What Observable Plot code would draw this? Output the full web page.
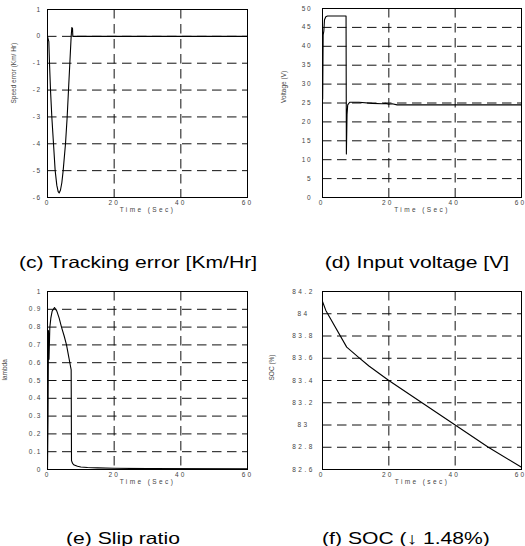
<!DOCTYPE html>
<html><head><meta charset="utf-8">
<script src="https://cdn.jsdelivr.net/npm/d3@7"></script>
<script src="https://cdn.jsdelivr.net/npm/@observablehq/plot@0.6"></script>
<style>
body{margin:0;background:#fff;}
#wrap{position:relative;width:525px;height:546px;overflow:hidden;font-family:"Liberation Sans",Arial,sans-serif;background:#fff;}
.panel{position:absolute;}
.cap{position:absolute;font-size:16.5px;white-space:nowrap;transform:translate(-50%,-50%) scaleX(1.28);color:#000;line-height:1;}
</style></head><body><div id="wrap"></div>
<script>
// ---- shared axis values ----
const timeTicks = [0, 20, 40, 60];
const timeGrid = [20, 40];

// ---- (c) Tracking error ----
const errTime  = [0, 0.4, 0.6, 0.9, 1.3, 1.8, 2.3, 2.8, 3.2, 3.5, 3.9, 4.3, 4.7, 5.4, 5.9, 6.3, 6.7, 7.1, 7.3, 7.5, 7.6, 60];
const errValue = [0, -0.2, -1.0, -2.0, -3.0, -4.0, -5.0, -5.55, -5.78, -5.83, -5.72, -5.45, -5.0, -4.0, -3.0, -2.0, -1.0, 0, 0.33, 0.3, 0, 0];
const errTicks = [-6, -5, -4, -3, -2, -1, 0, 1];

// ---- (d) Input voltage ----
const voltTime  = [0, 0.05, 0.2, 0.4, 0.6, 1.0, 1.5, 7.1, 7.2, 7.4, 7.6, 8.2, 11, 15, 18, 19, 20, 21, 22.5, 60];
const voltValue = [26, 26, 43, 44, 47, 47.8, 48, 48, 11.5, 22, 24.5, 25.2, 25.2, 24.9, 24.8, 24.9, 24.7, 24.8, 24.5, 24.5];
const voltTicks = [0, 5, 10, 15, 20, 25, 30, 35, 40, 45, 50];

// ---- (e) Slip ratio ----
const slipTime  = [0, 0.15, 0.3, 0.45, 0.7, 1.0, 1.4, 2.1, 2.8, 3.5, 4.2, 5.0, 5.7, 6.3, 6.8, 7.1, 7.2, 7.5, 8.0, 9, 10, 12, 15, 20, 30, 60];
const slipValue = [0, 0.28, 0.78, 0.62, 0.8, 0.85, 0.89, 0.91, 0.89, 0.85, 0.8, 0.75, 0.7, 0.64, 0.59, 0.56, 0.05, 0.035, 0.025, 0.018, 0.014, 0.011, 0.009, 0.007, 0.005, 0.004];
const slipTicks = [0, 0.1, 0.2, 0.3, 0.4, 0.5, 0.6, 0.7, 0.8, 0.9, 1];

// ---- (f) SOC ----
const socTime  = [0, 1.0, 7.3, 10.8, 14, 20, 30, 40, 50, 60];
const socValue = [84.11, 84.03, 83.70, 83.61, 83.53, 83.40, 83.20, 83.00, 82.80, 82.62];
const socTicks = [82.6, 82.8, 83, 83.2, 83.4, 83.6, 83.8, 84, 84.2];

const captions = ["(c) Tracking error [Km/Hr]", "(d) Input voltage [V]", "(e) Slip ratio", "(f) SOC (\u2193 1.48%)"];

const wrap = document.getElementById("wrap");

function panel(o) {
  const data = o.t.map((t, i) => ({t, v: o.v[i]}));
  const svg = Plot.plot({
    width: o.width, height: o.height,
    marginLeft: o.ml, marginRight: o.mr, marginTop: o.mt, marginBottom: o.mb,
    style: {fontFamily: '"Liberation Sans", Arial, sans-serif', background: "#fff", overflow: "visible"},
    x: {domain: [0, 60]},
    y: {domain: o.yDomain},
    marks: [
      Plot.gridY(o.yTicks, {stroke: "#111", strokeOpacity: 1, strokeDasharray: "9.5,5.5"}),
      Plot.gridX(timeGrid, {stroke: "#111", strokeOpacity: 1, strokeDasharray: "9.5,5.5"}),
      Plot.line(data, {x: "t", y: "v", stroke: "#000", strokeWidth: 1.1}),
      Plot.frame({stroke: "#000"}),
      Plot.axisX(timeTicks, {tickSize: 0, tickPadding: 3, fontSize: 6.5, fill: "#444", label: null, dx: o.xdx || 0}),
      Plot.axisY(o.yTicks, {tickSize: 0, tickPadding: o.tp, fontSize: 6.5, fill: "#444", label: null,
        textAnchor: o.anchor || "end", tickFormat: o.fmt}),
      Plot.text([o.xLabel], {text: d => d, frameAnchor: "bottom", dy: 14, fontSize: 6.5, fill: "#444"}),
      Plot.text([o.yLabel], {text: d => d, frameAnchor: "left", dx: o.ydx, rotate: -90, fontSize: 6.5, fill: "#444"})
    ]
  });
  const s = d3.select(svg);
  s.selectAll('g[aria-label="x-axis tick label"] text').style("letter-spacing", "2.1px");
  s.selectAll('g[aria-label="y-axis tick label"] text').style("letter-spacing", o.yls + "px");
  s.selectAll("text").filter(function() { return this.textContent === o.xLabel; })
    .style("letter-spacing", "2.4px");
  svg.classList.add("panel");
  svg.style.left = o.left + "px";
  svg.style.top = o.top + "px";
  wrap.appendChild(svg);
}

const f1 = d => String(+d.toFixed(1));

panel({t: errTime, v: errValue, yDomain: [-6, 1], yTicks: errTicks, fmt: f1,
  left: 0, top: 0, width: 262, height: 222, ml: 47, mr: 15, mt: 9, mb: 25,
  tp: 6, yls: 1.5, xLabel: "Time (Sec)", yLabel: "Speed error (Km/ Hr)", ydx: -34});
panel({t: voltTime, v: voltValue, yDomain: [0, 50], yTicks: voltTicks, fmt: f1,
  left: 262, top: 0, width: 263, height: 222, ml: 60, mr: 4, mt: 8, mb: 25,
  tp: 10, yls: 1.8, xLabel: "Time (Sec)", yLabel: "Voltage (V)", ydx: -39, xdx: -1});
panel({t: slipTime, v: slipValue, yDomain: [0, 1], yTicks: slipTicks, fmt: f1,
  left: 0, top: 282, width: 262, height: 210, ml: 47, mr: 15, mt: 9, mb: 23,
  tp: 6, yls: 1.2, xLabel: "Time (Sec)", yLabel: "lambda", ydx: -42.5});
panel({t: socTime, v: socValue, yDomain: [82.6, 84.2], yTicks: socTicks, fmt: f1,
  left: 262, top: 282, width: 263, height: 210, ml: 60, mr: 4, mt: 9, mb: 23,
  tp: 19, anchor: "middle", yls: 2.5, xLabel: "Time (sec)", yLabel: "SOC (%)", ydx: -50.5, xdx: -1});

const capPos = [[137.5, 262], [416.5, 262], [123, 538], [405.5, 538]];
captions.forEach((c, i) => {
  const d = document.createElement("div");
  d.className = "cap";
  d.textContent = c;
  d.style.left = capPos[i][0] + "px";
  d.style.top = capPos[i][1] + "px";
  wrap.appendChild(d);
});
</script></body></html>
